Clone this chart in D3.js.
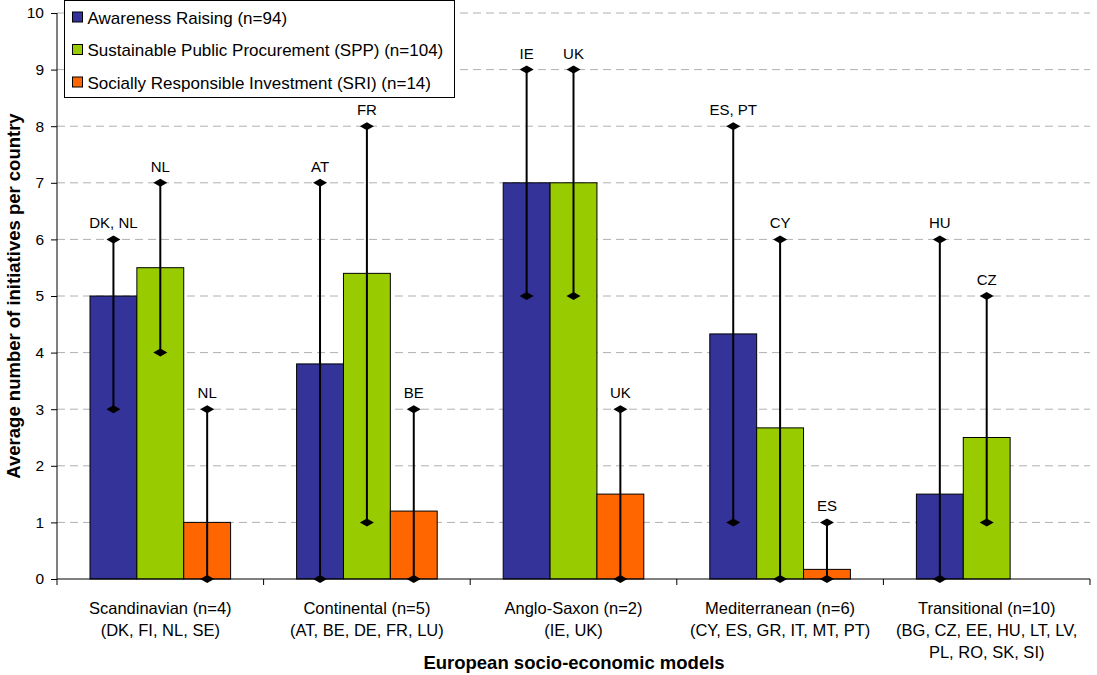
<!DOCTYPE html>
<html>
<head>
<meta charset="utf-8">
<script src="https://cdn.jsdelivr.net/npm/d3@7"></script>
<style>
  body { margin: 0; background: #fff; }
  svg { display: block; font-family: "Liberation Sans", Arial, sans-serif; }
</style>
</head>
<body>
<svg id="chart" width="1097" height="675"></svg>
<script>
// ── Data ──
const categories = [
  ["Scandinavian (n=4)", "(DK, FI, NL, SE)"],
  ["Continental (n=5)", "(AT, BE, DE, FR, LU)"],
  ["Anglo-Saxon (n=2)", "(IE, UK)"],
  ["Mediterranean (n=6)", "(CY, ES, GR, IT, MT, PT)"],
  ["Transitional (n=10)", "(BG, CZ, EE, HU, LT, LV,", "PL, RO, SK, SI)"],
];
const seriesNames = [
  "Awareness Raising (n=94)",
  "Sustainable Public Procurement (SPP) (n=104)",
  "Socially Responsible Investment (SRI) (n=14)",
];
const seriesColors = ["#333399", "#99cc00", "#ff6600"];

// average per country, per series and category
const awareness = [5, 3.8, 7, 4.33, 1.5];
const spp = [5.5, 5.4, 7, 2.67, 2.5];
const sri = [1, 1.2, 1.5, 0.17, 0];

// min / max ranges and the country with the max
const awarenessMin = [3, 0, 5, 1, 0];
const awarenessMax = [6, 7, 9, 8, 6];
const awarenessTop = ["DK, NL", "AT", "IE", "ES, PT", "HU"];
const sppMin = [4, 1, 5, 0, 1];
const sppMax = [7, 8, 9, 6, 5];
const sppTop = ["NL", "FR", "UK", "CY", "CZ"];
const sriMin = [0, 0, 0, 0, null];
const sriMax = [3, 3, 3, 1, null];
const sriTop = ["NL", "BE", "UK", "ES", null];

const yTicks = d3.range(0, 11);

// ── Layout ──
const M = { t: 13, r: 7, b: 96, l: 57 };
const W = 1097, H = 675;
const w = W - M.l - M.r;
const h = 579 - M.t;

const svg = d3.select("#chart");
const g = svg.append("g").attr("transform", `translate(${M.l},${M.t})`);

const x0 = d3.scaleBand().domain(d3.range(categories.length)).range([0, w]);
const x1 = d3.scaleBand().domain([0, 1, 2]).range([33, x0.bandwidth() - 33]);
const y = d3.scaleLinear().domain([0, 10]).range([h, 0]);

// gridlines
g.append("g").selectAll("line")
  .data(yTicks.filter((d) => d > 0))
  .join("line")
  .attr("x1", 0).attr("x2", w)
  .attr("y1", (d) => y(d)).attr("y2", (d) => y(d))
  .attr("stroke", "#b0b0b0")
  .attr("stroke-dasharray", "8,5");

const series = [
  { vals: awareness, lo: awarenessMin, hi: awarenessMax, top: awarenessTop },
  { vals: spp, lo: sppMin, hi: sppMax, top: sppTop },
  { vals: sri, lo: sriMin, hi: sriMax, top: sriTop },
];

// bars
series.forEach((s, si) => {
  g.append("g").selectAll("rect")
    .data(s.vals.map((v, ci) => ({ v, ci })).filter((d) => d.v > 0))
    .join("rect")
    .attr("x", (d) => x0(d.ci) + x1(si))
    .attr("width", x1.bandwidth())
    .attr("y", (d) => y(d.v))
    .attr("height", (d) => h - y(d.v))
    .attr("fill", seriesColors[si])
    .attr("stroke", "#000")
    .attr("stroke-width", 1);
});

// min-max ranges with diamond ends
const diamond = (cx, cy) => `M${cx - 7},${cy}L${cx},${cy - 4}L${cx + 7},${cy}L${cx},${cy + 4}Z`;
series.forEach((s, si) => {
  s.vals.forEach((v, ci) => {
    if (s.hi[ci] == null) return;
    const cx = x0(ci) + x1(si) + x1.bandwidth() / 2;
    g.append("line")
      .attr("x1", cx).attr("x2", cx)
      .attr("y1", y(s.lo[ci])).attr("y2", y(s.hi[ci]))
      .attr("stroke", "#000").attr("stroke-width", 2);
    [s.lo[ci], s.hi[ci]].forEach((e) => {
      g.append("path").attr("d", diamond(cx, y(e))).attr("fill", "#000");
    });
    g.append("text")
      .attr("x", cx).attr("y", y(s.hi[ci]) - 11)
      .attr("text-anchor", "middle")
      .attr("font-size", "15px")
      .text(s.top[ci]);
  });
});

// y axis
const yG = g.append("g").call(d3.axisLeft(y).tickValues(yTicks).tickSize(6).tickPadding(7));
yG.selectAll("text").attr("font-size", "15.5px").attr("font-family", "Liberation Sans, Arial, sans-serif").attr("fill", "#000");
yG.select(".domain").attr("d", `M0,${h}V0`).attr("stroke", "#000");

// x axis
const xG = g.append("g").attr("transform", `translate(0,${h})`);
xG.append("line").attr("x1", 0).attr("x2", w).attr("stroke", "#000");
xG.selectAll(".tk")
  .data(d3.range(categories.length + 1))
  .join("line")
  .attr("x1", (d) => d * x0.bandwidth()).attr("x2", (d) => d * x0.bandwidth())
  .attr("y1", 0).attr("y2", 6)
  .attr("stroke", "#000");
categories.forEach((lines, ci) => {
  const cx = x0(ci) + x0.bandwidth() / 2;
  const t = xG.append("text")
    .attr("x", cx)
    .attr("y", 35)
    .attr("text-anchor", "middle")
    .attr("font-size", "16.5px");
  lines.forEach((ln, i) => {
    t.append("tspan").attr("x", cx).attr("dy", i ? 22 : 0).text(ln);
  });
});

// axis titles
svg.append("text")
  .attr("x", 574).attr("y", 669)
  .attr("text-anchor", "middle")
  .attr("font-size", "18.5px").attr("font-weight", "bold")
  .text("European socio-economic models");
svg.append("text")
  .attr("transform", `translate(20,${M.t + h / 2}) rotate(-90)`)
  .attr("text-anchor", "middle")
  .attr("font-size", "18.5px").attr("font-weight", "bold")
  .text("Average number of initiatives per country");

// legend
const lg = svg.append("g").attr("transform", "translate(64.5,0.5)");
lg.append("rect").attr("width", 390).attr("height", 97)
  .attr("fill", "#fff").attr("stroke", "#000").attr("stroke-width", 1);
seriesNames.forEach((name, i) => {
  const yy = 17 + i * 32.5;
  lg.append("rect").attr("x", 8).attr("y", yy - 5.5).attr("width", 10).attr("height", 10)
    .attr("fill", seriesColors[i]).attr("stroke", "#000");
  lg.append("text").attr("x", 23).attr("y", yy + 6)
    .attr("font-size", "17px").text(name);
});
</script>
</body>
</html>
